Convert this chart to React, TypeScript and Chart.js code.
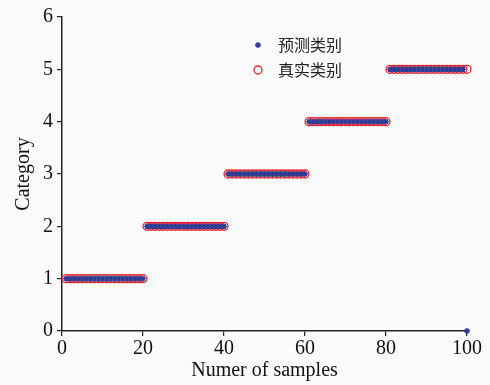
import React, { useEffect, useRef } from "react";
import { Chart, registerables } from "chart.js";

Chart.register(...registerables);

const samples = [
  1, 2, 3, 4, 5, 6, 7, 8, 9, 10, 11, 12, 13, 14, 15, 16, 17, 18, 19, 20,
  21, 22, 23, 24, 25, 26, 27, 28, 29, 30, 31, 32, 33, 34, 35, 36, 37, 38, 39, 40,
  41, 42, 43, 44, 45, 46, 47, 48, 49, 50, 51, 52, 53, 54, 55, 56, 57, 58, 59, 60,
  61, 62, 63, 64, 65, 66, 67, 68, 69, 70, 71, 72, 73, 74, 75, 76, 77, 78, 79, 80,
  81, 82, 83, 84, 85, 86, 87, 88, 89, 90, 91, 92, 93, 94, 95, 96, 97, 98, 99, 100,
];

const predicted = [
  1, 1, 1, 1, 1, 1, 1, 1, 1, 1, 1, 1, 1, 1, 1, 1, 1, 1, 1, 1,
  2, 2, 2, 2, 2, 2, 2, 2, 2, 2, 2, 2, 2, 2, 2, 2, 2, 2, 2, 2,
  3, 3, 3, 3, 3, 3, 3, 3, 3, 3, 3, 3, 3, 3, 3, 3, 3, 3, 3, 3,
  4, 4, 4, 4, 4, 4, 4, 4, 4, 4, 4, 4, 4, 4, 4, 4, 4, 4, 4, 4,
  5, 5, 5, 5, 5, 5, 5, 5, 5, 5, 5, 5, 5, 5, 5, 5, 5, 5, 5, 0,
];

const actual = [
  1, 1, 1, 1, 1, 1, 1, 1, 1, 1, 1, 1, 1, 1, 1, 1, 1, 1, 1, 1,
  2, 2, 2, 2, 2, 2, 2, 2, 2, 2, 2, 2, 2, 2, 2, 2, 2, 2, 2, 2,
  3, 3, 3, 3, 3, 3, 3, 3, 3, 3, 3, 3, 3, 3, 3, 3, 3, 3, 3, 3,
  4, 4, 4, 4, 4, 4, 4, 4, 4, 4, 4, 4, 4, 4, 4, 4, 4, 4, 4, 4,
  5, 5, 5, 5, 5, 5, 5, 5, 5, 5, 5, 5, 5, 5, 5, 5, 5, 5, 5, 5,
];

const seriesNames = ["预测类别", "真实类别"];
const xTitle = "Numer of samples";
const yTitle = "Category";

const BLUE = "#2e3a93";
const RED = "#e8212b";
const SERIF = "'Liberation Serif', 'DejaVu Serif', serif";

function drawPoint(ctx: CanvasRenderingContext2D, style: string, r: number, x: number, y: number, lw: number, color: string) {
  ctx.strokeStyle = color;
  ctx.lineWidth = lw;
  ctx.beginPath();
  if (style === "star") {
    for (let k = 0; k < 4; k++) {
      const a = (k * Math.PI) / 4;
      ctx.moveTo(x - Math.cos(a) * r, y - Math.sin(a) * r);
      ctx.lineTo(x + Math.cos(a) * r, y + Math.sin(a) * r);
    }
  } else {
    ctx.arc(x, y, r, 0, Math.PI * 2);
  }
  ctx.stroke();
}

const legendPlugin = {
  id: "customLegend",
  afterDraw(chart: any) {
    const ctx = chart.ctx;
    const x0 = 258;
    const rows = [45, 70];
    ctx.save();
    chart.data.datasets.forEach((ds: any, i: number) => {
      const y = rows[i];
      ctx.save();
      drawPoint(ctx, ds.pointStyle, ds.radius, x0, y, ds.borderWidth, ds.borderColor);
      ctx.restore();
      ctx.fillStyle = "#222";
      ctx.font = "16px 'Noto Sans CJK SC', sans-serif";
      ctx.textBaseline = "middle";
      ctx.textAlign = "left";
      ctx.fillText(ds.label, x0 + 20, y);
    });
    ctx.restore();
  },
};

const bgPlugin = {
  id: "bg",
  beforeDraw(chart: any) {
    const ctx = chart.ctx;
    ctx.save();
    ctx.fillStyle = "#fbfbfb";
    ctx.fillRect(0, 0, chart.width, chart.height);
    ctx.restore();
  },
};

export default function App() {
  const ref = useRef<HTMLCanvasElement>(null);
  useEffect(() => {
    if (!ref.current) return;
    const chart = new Chart(ref.current, {
      type: "scatter",
      data: {
        datasets: [
          {
            label: seriesNames[0],
            data: samples.map((s, i) => ({ x: s, y: predicted[i] })),
            pointStyle: "star",
            radius: 3,
            borderColor: BLUE,
            backgroundColor: BLUE,
            borderWidth: 1.4,
            clip: false,
          } as any,
          {
            label: seriesNames[1],
            data: samples.map((s, i) => ({ x: s, y: actual[i] })),
            pointStyle: "circle",
            radius: 4,
            borderColor: RED,
            backgroundColor: "rgba(0,0,0,0)",
            borderWidth: 1.3,
            clip: false,
          } as any,
        ],
      },
      options: {
        animation: false,
        responsive: false,
        layout: { padding: { left: 0, right: 23, top: 17, bottom: 0 } },
        plugins: { legend: { display: false }, tooltip: { enabled: false } },
        scales: {
          x: {
            type: "linear",
            min: 0,
            max: 100,
            afterFit(scale: any) {
              scale.height = 54;
            },
            ticks: { stepSize: 20, color: "#111", padding: 1, font: { family: SERIF, size: 20 } },
            grid: { drawOnChartArea: false, drawTicks: true, tickLength: 5, color: "#222", lineWidth: 1.2 },
            border: { display: true, color: "#222", width: 1.5 },
            title: {
              display: true,
              text: xTitle,
              color: "#111",
              font: { family: SERIF, size: 20 },
              padding: { top: 0, bottom: 2 },
            },
          },
          y: {
            type: "linear",
            min: 0,
            max: 6,
            afterFit(scale: any) {
              scale.width = 62;
            },
            ticks: { stepSize: 1, color: "#111", padding: 4, font: { family: SERIF, size: 20 } },
            grid: { drawOnChartArea: false, drawTicks: true, tickLength: 5, color: "#222", lineWidth: 1.2 },
            border: { display: true, color: "#222", width: 1.5 },
            title: {
              display: true,
              text: yTitle,
              color: "#111",
              font: { family: SERIF, size: 20 },
              padding: { top: 12, bottom: 0 },
            },
          },
        },
      } as any,
      plugins: [bgPlugin, legendPlugin],
    });
    return () => chart.destroy();
  }, []);
  return (
    <div style={{ position: "fixed", left: 0, top: 0, width: 490, height: 385 }}>
      <canvas ref={ref} width={490} height={385} style={{ width: 490, height: 385 }} />
    </div>
  );
}
